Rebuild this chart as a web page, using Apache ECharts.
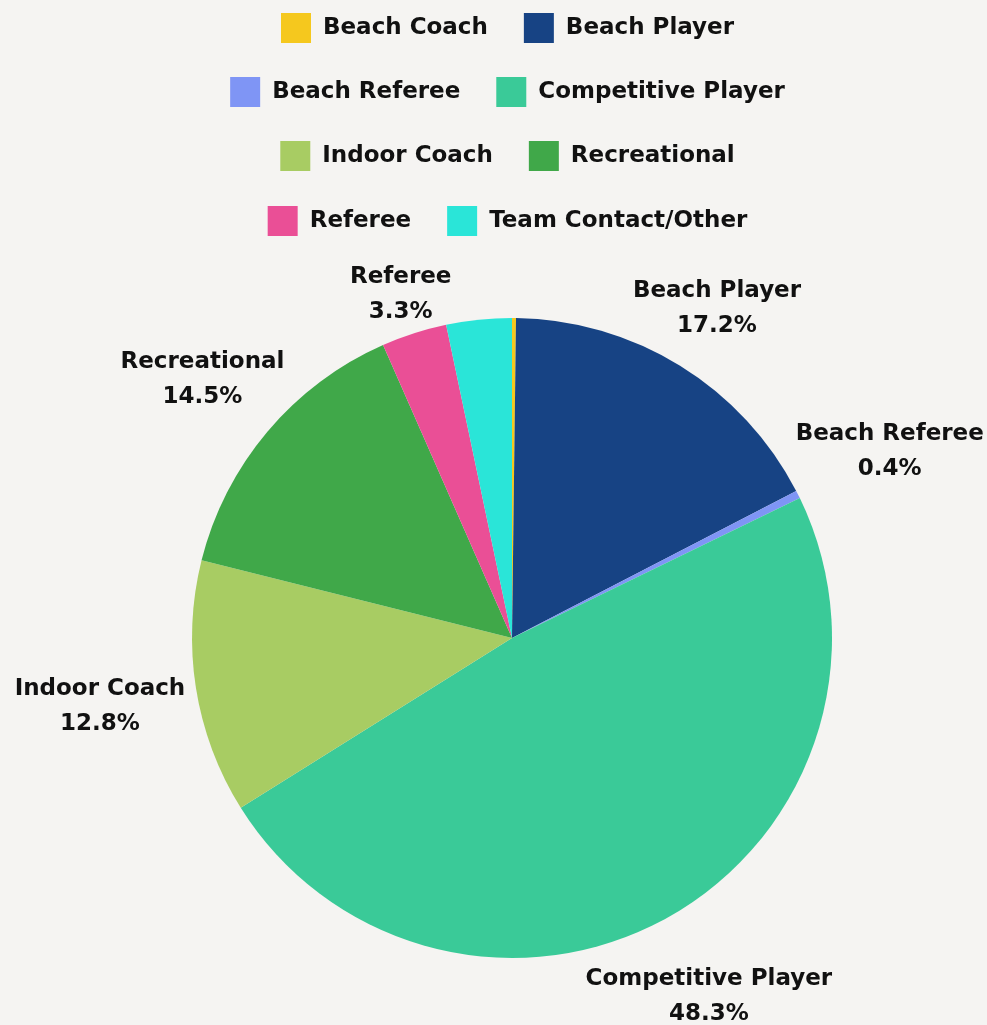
<!DOCTYPE html>
<html>
<head>
<meta charset="utf-8">
<script src="https://cdn.jsdelivr.net/npm/echarts@6/dist/echarts.min.js"></script>
<style>
  html, body { margin: 0; padding: 0; background: #f5f4f2; overflow: hidden; }
  /* slightly wider than the window so the centred legend rows sit where the original's did */
  #chart { width: 1015px; height: 1025px; }
</style>
</head>
<body>
<div id="chart"></div>
<script>
// shares by member type, in percent
const categories = ['Beach Coach', 'Beach Player', 'Beach Referee', 'Competitive Player',
  'Indoor Coach', 'Recreational', 'Referee', 'Team Contact/Other']
const shares = [0.2, 17.2, 0.4, 48.3, 12.8, 14.5, 3.3, 3.3]
const colors = ['#f5c81e', '#174384', '#7f95f5', '#3aca98', '#a8cc63', '#40a849', '#ea4f96', '#2ae5d8']
const hiddenLabels = ['Beach Coach', 'Team Contact/Other']

const CX = 512, CY = 638, R = 320
const FONT = "'DejaVu Sans', sans-serif"

const chart = echarts.init(document.getElementById('chart'))

// mid angle of each slice, clockwise from 12 o'clock
const total = shares.reduce((a, b) => a + b, 0)
const midAngles = []
let acc = 0
shares.forEach(v => {
  midAngles.push((acc + v / 2) / total * Math.PI * 2)
  acc += v
})

const legendRows = [[0, 1], [2, 3], [4, 5], [6, 7]]
const legendTops = [8, 72, 136, 201]

const option = {
  backgroundColor: '#f5f4f2',
  color: colors,
  legend: legendRows.map((row, i) => ({
    data: row.map(k => categories[k]),
    top: legendTops[i],
    left: 'center',
    icon: 'rect',
    itemWidth: 30,
    itemHeight: 30,
    itemGap: 36,
    selectedMode: false,
    textStyle: {
      fontFamily: FONT,
      fontWeight: 'bold',
      fontSize: 23,
      color: '#111',
      padding: [0, 0, 0, 7]
    }
  })),
  series: [{
    type: 'pie',
    center: [CX, CY],
    radius: R,
    startAngle: 90,
    clockwise: true,
    silent: true,
    itemStyle: { borderWidth: 0 },
    labelLine: { show: false },
    label: {
      position: 'outside',
      fontFamily: FONT,
      fontWeight: 'bold',
      fontSize: 23,
      lineHeight: 35,
      color: '#111',
      align: 'center',
      overflow: 'none',
      edgeDistance: 0,
      bleedMargin: 0,
      formatter: p => p.name + '\n' + p.value.toFixed(1) + '%'
    },
    // place each label just outside the slice, centred on its mid angle
    labelLayout: params => {
      const a = midAngles[params.dataIndex]
      const s = Math.sin(a), c = Math.cos(a)
      const w = params.labelRect.width, h = params.labelRect.height
      const d = 330 + Math.abs(s) * w / 2 + Math.abs(c) * (h / 2 - 16)
      return {
        x: CX + d * s,
        y: CY - d * c + 3,
        align: 'center',
        verticalAlign: 'middle'
      }
    },
    data: categories.map((name, i) => ({
      name: name,
      value: shares[i],
      label: { show: hiddenLabels.indexOf(name) < 0 }
    }))
  }]
}

chart.setOption(option)
</script>
</body>
</html>
